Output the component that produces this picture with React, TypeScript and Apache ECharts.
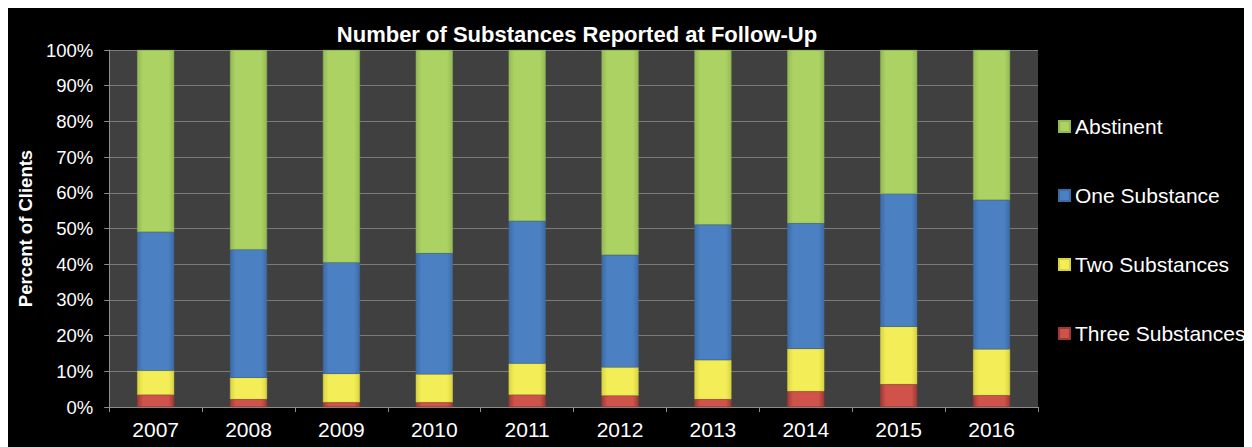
import React, { useEffect, useRef } from "react";
import * as echarts from "echarts";

const years = ["2007", "2008", "2009", "2010", "2011", "2012", "2013", "2014", "2015", "2016"];
const threeSubstances = [3.4, 2.2, 1.3, 1.3, 3.4, 3.2, 2.2, 4.4, 6.4, 3.3];
const twoSubstances = [6.8, 6.0, 8.0, 7.9, 8.8, 7.9, 11.0, 11.9, 16.1, 12.9];
const oneSubstance = [38.8, 35.9, 31.2, 33.9, 39.9, 31.5, 37.9, 35.2, 37.2, 41.8];
const abstinent = [51.0, 55.9, 59.5, 56.9, 47.9, 57.4, 48.9, 48.5, 40.3, 42.0];
const legendOrder = ["Abstinent", "One Substance", "Two Substances", "Three Substances"];

const FONT = "'Liberation Sans', Arial, sans-serif";

function shade(c1: string, c2: string) {
  return new echarts.graphic.LinearGradient(0, 0, 1, 0, [
    { offset: 0, color: c2 },
    { offset: 0.15, color: c1 },
    { offset: 0.85, color: c1 },
    { offset: 1, color: c2 },
  ]);
}

export default function App() {
  const ref = useRef<HTMLDivElement>(null);
  useEffect(() => {
    if (!ref.current) return;
    const chart = echarts.init(ref.current, undefined, { renderer: "svg" });
    const mk = (name: string, data: number[], c1: string, c2: string, legendColor: string) => ({
      name,
      type: "bar",
      stack: "total",
      barWidth: 37,
      data,
      itemStyle: { color: shade(c1, c2), borderColor: c2, borderWidth: 0.5 },
      color: legendColor,
    });
    chart.setOption({
      animation: false,
      backgroundColor: "#000000",
      title: {
        text: "Number of Substances Reported at Follow-Up",
        left: 564,
        top: 10,
        textAlign: "center",
        textStyle: { color: "#ffffff", fontSize: 22, fontWeight: "bold", fontFamily: FONT },
      },
      legend: {
        orient: "vertical",
        left: 1045,
        top: 103,
        itemWidth: 11,
        itemHeight: 11,
        itemGap: 48,
        icon: "rect",
        data: legendOrder,
        textStyle: { color: "#ffffff", fontSize: 21, fontFamily: FONT },
      },
      grid: {
        left: 100,
        right: 214,
        top: 42,
        bottom: 40,
        show: true,
        backgroundColor: "#404040",
        borderWidth: 0,
      },
      xAxis: {
        type: "category",
        data: years,
        axisLine: { lineStyle: { color: "#8c8c8c", width: 1 } },
        axisTick: { show: true, length: 5, lineStyle: { color: "#8c8c8c" } },
        axisLabel: { color: "#ffffff", fontSize: 21, fontFamily: FONT, margin: 12 },
      },
      yAxis: {
        type: "value",
        min: 0,
        max: 100,
        interval: 10,
        name: "Percent of Clients",
        nameLocation: "middle",
        nameGap: 72,
        nameTextStyle: { color: "#ffffff", fontSize: 18.5, fontWeight: "bold", fontFamily: FONT },
        axisLine: { show: true, lineStyle: { color: "#8c8c8c" } },
        axisTick: { show: true, length: 5, lineStyle: { color: "#8c8c8c" } },
        splitLine: { show: true, lineStyle: { color: "#7a7a7a", width: 1 } },
        axisLabel: {
          color: "#ffffff",
          fontSize: 18.5,
          fontFamily: FONT,
          margin: 16,
          formatter: (v: number) => v + "%",
        },
      },
      series: [
        mk("Three Substances", threeSubstances, "#cf524b", "#9e3a35", "#c64b45"),
        mk("Two Substances", twoSubstances, "#f3ee57", "#d8d342", "#f3ee57"),
        mk("One Substance", oneSubstance, "#4b80c2", "#3d6ba5", "#4b80c2"),
        mk("Abstinent", abstinent, "#acd264", "#93b955", "#acd264"),
      ],
    });
    return () => chart.dispose();
  }, []);
  return <div ref={ref} style={{ width: 1244, height: 439 }} />;
}
